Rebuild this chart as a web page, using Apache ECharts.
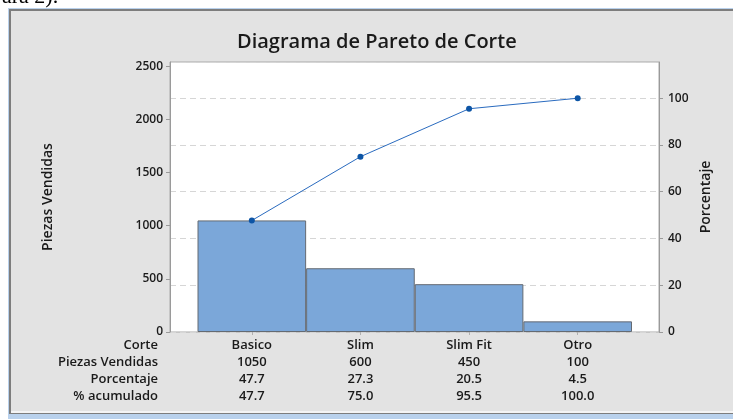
<!DOCTYPE html>
<html>
<head>
<meta charset="utf-8">
<script src="https://cdn.jsdelivr.net/npm/echarts@6/dist/echarts.min.js"></script>
<style>
  html, body { margin: 0; padding: 0; background: #fff; }
  #chart { width: 733px; height: 419px; }
</style>
</head>
<body>
<div id="chart"></div>
<script>
// datos del diagrama de Pareto
const categories = ['Basico', 'Slim', 'Slim Fit', 'Otro']
const piezas = [1050, 600, 450, 100]
const porcentaje = [47.7, 27.3, 20.5, 4.5]
const acumulado = [47.7, 75.0, 95.5, 100.0]
const rowLabels = ['Corte', 'Piezas Vendidas', 'Porcentaje', '% acumulado']

const total = piezas.reduce((a, b) => a + b, 0)
const pctMax = 115.5 // el eje derecho llega un poco arriba de 100
const leftMax = total * pctMax / 100

const font = 'Open Sans'
const txt = '#1a1a1a'
const axisGrey = '#9a9a9a'

let chart = echarts.init(document.getElementById('chart'))
let option = {
  animation: false,
  textStyle: { fontFamily: font },
  title: {
    text: 'Diagrama de Pareto de Corte',
    left: 232,
    top: 27,
    textStyle: { fontFamily: font, fontSize: 20, fontWeight: 600, color: '#1a1a1a' }
  },
  graphic: [
    { type: 'rect', z: -10, shape: { x: 8, y: 8, width: 730, height: 411 }, style: { fill: '#b9d1ec' } },
    { type: 'rect', z: -9, shape: { x: 10, y: 10, width: 728, height: 403 }, style: { fill: '#e3e3e3', stroke: '#7d7d7d', lineWidth: 2 } },
    { type: 'rect', z: -8, shape: { x: 11, y: 411, width: 727, height: 2 }, style: { fill: '#f4f4f4' } },
    { type: 'text', z: -8, left: 2, top: -14, style: { text: 'ara 2).', font: '22px "Liberation Serif"', fill: '#000' } },
    {
      type: 'text',
      x: 158,
      y: 337,
      style: {
        text: rowLabels.join('\n'),
        align: 'right',
        verticalAlign: 'top',
        font: '600 13px "Open Sans"',
        lineHeight: 17,
        fill: txt
      }
    }
  ],
  grid: [
    { left: 170, right: 74, top: 62, bottom: 87, show: true, backgroundColor: '#fff', borderColor: '#a8a8a8', borderWidth: 1 },
    { left: 197.5, right: 101, top: 62, bottom: 87 }
  ],
  xAxis: [
    { gridIndex: 0, type: 'value', show: false, min: 0, max: 1 },
    {
      gridIndex: 1,
      type: 'category',
      data: categories,
      boundaryGap: true,
      axisLine: { show: false },
      axisTick: { show: true, alignWithLabel: true, inside: false, length: 3, lineStyle: { color: '#b0b0b0' } },
      axisLabel: {
        margin: 5,
        lineHeight: 17,
        fontSize: 13,
        fontWeight: 600,
        color: txt,
        formatter: function (value, idx) {
          return value + '\n' + piezas[idx] + '\n' + porcentaje[idx].toFixed(1) + '\n' + acumulado[idx].toFixed(1)
        }
      }
    }
  ],
  yAxis: [
    {
      gridIndex: 0,
      type: 'value',
      position: 'left',
      min: 0,
      max: leftMax,
      interval: 500,
      name: 'Piezas Vendidas',
      nameLocation: 'middle',
      nameGap: 115,
      nameTextStyle: { fontSize: 14, fontWeight: 600, color: txt, fontFamily: font },
      axisLine: { show: true, lineStyle: { color: axisGrey } },
      axisTick: { show: true, length: 4, lineStyle: { color: axisGrey } },
      axisLabel: { margin: 7, fontSize: 12, fontWeight: 600, color: txt, showMaxLabel: false, formatter: v => String(v) },
      splitLine: { show: false }
    },
    {
      gridIndex: 0,
      type: 'value',
      position: 'right',
      min: 0,
      max: pctMax,
      interval: 20,
      name: 'Porcentaje',
      nameLocation: 'middle',
      nameGap: 31,
      nameRotate: 90,
      nameTextStyle: { fontSize: 14, fontWeight: 600, color: txt, fontFamily: font },
      axisLine: { show: true, lineStyle: { color: axisGrey } },
      axisTick: { show: true, length: 4, lineStyle: { color: axisGrey } },
      axisLabel: { margin: 9, fontSize: 12, fontWeight: 600, color: txt, showMaxLabel: false },
      splitLine: { show: true, lineStyle: { color: '#d6d6d6', type: [6, 4] } }
    },
    { gridIndex: 1, type: 'value', show: false, min: 0, max: leftMax, splitLine: { show: false } },
    { gridIndex: 1, type: 'value', show: false, min: 0, max: pctMax, splitLine: { show: false } }
  ],
  series: [
    {
      name: 'Piezas Vendidas',
      type: 'bar',
      xAxisIndex: 1,
      yAxisIndex: 2,
      data: piezas,
      barWidth: '100%',
      barCategoryGap: 0,
      itemStyle: { color: '#7ba7d9', borderColor: '#646a72', borderWidth: 1 }
    },
    {
      name: '% acumulado',
      type: 'line',
      xAxisIndex: 1,
      yAxisIndex: 3,
      data: acumulado,
      symbol: 'circle',
      symbolSize: 6,
      lineStyle: { color: '#2a6bbf', width: 1 },
      itemStyle: { color: '#0d55a6' }
    }
  ]
}
chart.setOption(option)
</script>
</body>
</html>
